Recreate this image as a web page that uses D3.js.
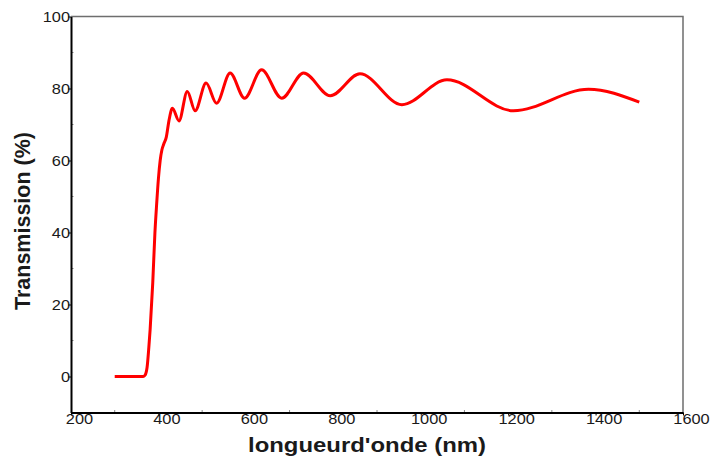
<!DOCTYPE html>
<html>
<head>
<meta charset="utf-8">
<script src="https://cdn.jsdelivr.net/npm/d3@7"></script>
<style>
  body { margin: 0; background: #fff; }
</style>
</head>
<body>
<svg id="chart" width="713" height="459"></svg>
<script>
// wavelength (nm) and transmission (%)
var wavelength = [300, 340, 365, 369, 374, 378, 381, 387, 392, 396, 400, 404, 408, 412, 418, 424,
                  432, 447, 466, 484, 509, 533, 564, 597, 636, 682, 732, 793, 861, 957,
                  1060, 1212, 1384, 1500];
var transmission = [0, 0, 0, 0.3, 2.5, 8, 13, 26, 40, 48, 55, 60, 63, 64.5, 66.5, 71,
                    74.5, 71, 79.2, 73.8, 81.5, 75.9, 84.3, 77.3, 85.2, 77.3, 84.3, 78, 84.1, 75.5,
                    82.4, 73.8, 79.8, 76.2];
var xTicks = [200, 400, 600, 800, 1000, 1200, 1400, 1600];
var yTicks = [0, 20, 40, 60, 80, 100];

var font = "'Liberation Sans', Arial, Arimo, sans-serif";

var margin = {top: 16.5, right: 30, bottom: 46.5, left: 71},
    width = 713 - margin.left - margin.right,
    height = 459 - margin.top - margin.bottom;

var svg = d3.select("#chart")
    .append("g")
    .attr("transform", "translate(" + margin.left + "," + margin.top + ")");

var x = d3.scaleLinear().domain([200, 1600]).range([0, width]);
var y = d3.scaleLinear().domain([-10, 100]).range([height, 0]);

// top and right frame
svg.append("path")
    .attr("d", "M0,0H" + width + "V" + height)
    .attr("fill", "none")
    .attr("stroke", "#6e6e6e")
    .attr("stroke-width", 1.5);

// minor ticks
svg.append("g").selectAll("line")
    .data(d3.range(300, 1600, 200))
    .enter().append("line")
    .attr("x1", function(d) { return x(d); })
    .attr("x2", function(d) { return x(d); })
    .attr("y1", height)
    .attr("y2", height - 2.5)
    .attr("stroke", "#888");
svg.append("g").selectAll("line")
    .data(d3.range(-10, 100, 20))
    .enter().append("line")
    .attr("x1", 0)
    .attr("x2", 2.5)
    .attr("y1", function(d) { return y(d); })
    .attr("y2", function(d) { return y(d); })
    .attr("stroke", "#888");

var xAxis = svg.append("g")
    .attr("transform", "translate(0," + height + ")")
    .call(d3.axisBottom(x).tickValues(xTicks).tickFormat(d3.format("d")).tickSize(3).tickSizeOuter(0));
var yAxis = svg.append("g")
    .call(d3.axisLeft(y).tickValues(yTicks).tickFormat(d3.format("d")).tickSize(3).tickSizeOuter(0));

[xAxis, yAxis].forEach(function(a) {
    a.attr("font-family", null);
    a.select(".domain").attr("stroke", "#000").attr("stroke-width", 2);
    a.selectAll(".tick line").attr("stroke", "#000");
    a.selectAll(".tick text")
        .attr("fill", "#1a1a1a")
        .style("font-family", font)
        .style("font-size", "14px");
});

xAxis.selectAll(".tick text")
    .attr("y", 0)
    .attr("dy", 0)
    .attr("transform", "translate(8,11) scale(1.17,1)");
yAxis.selectAll(".tick text")
    .attr("x", 0)
    .attr("dy", "0.36em")
    .attr("transform", "translate(-1,0) scale(1.17,1)");

var line = d3.line()
    .x(function(d, i) { return x(wavelength[i]); })
    .y(function(d) { return y(d); })
    .curve(d3.curveMonotoneX);

svg.append("path")
    .datum(transmission)
    .attr("d", line)
    .attr("fill", "none")
    .attr("stroke", "#ff0000")
    .attr("stroke-width", 3)
    .attr("stroke-linejoin", "round");

d3.select("#chart").append("text")
    .attr("x", 248)
    .attr("y", 452)
    .attr("textLength", 238)
    .attr("lengthAdjust", "spacingAndGlyphs")
    .style("font-family", font)
    .style("font-size", "21px")
    .style("font-weight", "bold")
    .attr("fill", "#1a1a1a")
    .text("longueurd'onde (nm)");

d3.select("#chart").append("text")
    .attr("transform", "translate(30,221) rotate(-90)")
    .attr("text-anchor", "middle")
    .style("font-family", font)
    .style("font-size", "21.5px")
    .style("font-weight", "bold")
    .attr("fill", "#1a1a1a")
    .text("Transmission (%)");
</script>
</body>
</html>
